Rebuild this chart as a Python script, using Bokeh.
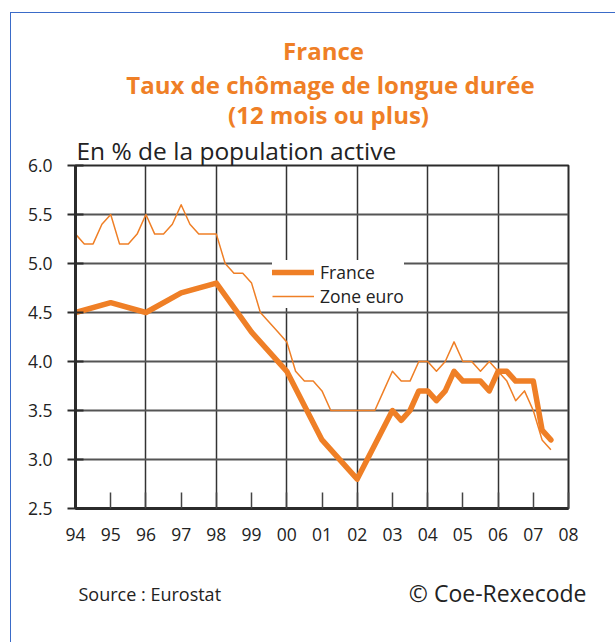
from bokeh.plotting import figure
from bokeh.models import (FixedTicker, Legend, LegendItem, Label, Range1d)
from bokeh.embed import file_html
from bokeh.resources import INLINE

ORANGE = "#EF7F26"
DARK = "#2b2b2b"
TEXT = "#222222"
FONT = "Open Sans"

# ---- data -------------------------------------------------------------
euro_x = [1994 + 0.25 * i for i in range(55)]
euro_y = [5.3, 5.2, 5.2, 5.4, 5.5, 5.2, 5.2, 5.3, 5.5, 5.3, 5.3, 5.4,
          5.6, 5.4, 5.3, 5.3, 5.3, 5.0, 4.9, 4.9, 4.8, 4.5, 4.4, 4.3,
          4.2, 3.9, 3.8, 3.8, 3.7, 3.5, 3.5, 3.5, 3.5, 3.5, 3.5, 3.7,
          3.9, 3.8, 3.8, 4.0, 4.0, 3.9, 4.0, 4.2, 4.0, 4.0, 3.9, 4.0,
          3.9, 3.8, 3.6, 3.7, 3.5, 3.2, 3.1]

france_x = [1994, 1995, 1996, 1997, 1998, 1999, 2000, 2001, 2002,
            2003.0, 2003.25, 2003.5, 2003.75, 2004.0, 2004.25, 2004.5, 2004.75,
            2005.0, 2005.25, 2005.5, 2005.75, 2006.0, 2006.25, 2006.5, 2006.75,
            2007.0, 2007.25, 2007.5]
france_y = [4.5, 4.6, 4.5, 4.7, 4.8, 4.3, 3.9, 3.2, 2.8,
            3.5, 3.4, 3.5, 3.7, 3.7, 3.6, 3.7, 3.9,
            3.8, 3.8, 3.8, 3.7, 3.9, 3.9, 3.8, 3.8,
            3.8, 3.3, 3.2]

x_ticks = list(range(1994, 2009))
x_tick_labels = ["94", "95", "96", "97", "98", "99", "00", "01", "02",
                 "03", "04", "05", "06", "07", "08"]
y_ticks = [2.5, 3.0, 3.5, 4.0, 4.5, 5.0, 5.5, 6.0]
y_tick_labels = ["2.5", "3.0", "3.5", "4.0", "4.5", "5.0", "5.5", "6.0"]
grid_years = [1994, 1996, 1998, 2000, 2002, 2004, 2006, 2008]

# canvas starts at page (11, 13) because of margin + 1px border
OX, OY = 11, 13

# ---- figure -----------------------------------------------------------
p = figure(width=616 - OX, height=643 - OY, output_backend="svg", toolbar_location=None,
           x_range=Range1d(1994, 2008), y_range=Range1d(2.5, 6.0),
           min_border_left=75 - OX, min_border_right=616 - 568,
           min_border_top=165 - OY, min_border_bottom=643 - 508)
p.styles = {"margin-left": "10px", "margin-top": "12px",
            "border-left": "1px solid #3A6BC8", "border-top": "1px solid #3A6BC8"}
p.background_fill_color = "white"
p.border_fill_color = "white"
p.outline_line_color = DARK
p.outline_line_width = 2

# axes
xa = p.xaxis[0]
xa.ticker = FixedTicker(ticks=x_ticks)
xa.major_label_overrides = {t: l for t, l in zip(x_ticks, x_tick_labels)}
xa.major_tick_in = 16
xa.major_tick_out = 0
xa.minor_tick_line_color = None
xa.major_tick_line_color = "#444444"
xa.major_tick_line_width = 1.5
xa.axis_line_color = DARK
xa.axis_line_width = 3
xa.major_label_standoff = 19
xa.major_label_text_font = FONT
xa.major_label_text_font_size = "17.5px"
xa.major_label_text_color = TEXT

ya = p.yaxis[0]
ya.ticker = FixedTicker(ticks=y_ticks)
ya.major_label_overrides = {t: l for t, l in zip(y_ticks, y_tick_labels)}
ya.major_tick_in = 8
ya.major_tick_out = 8
ya.minor_tick_line_color = None
ya.major_tick_line_color = DARK
ya.major_tick_line_width = 2
ya.axis_line_color = DARK
ya.axis_line_width = 3
ya.major_label_standoff = 15
ya.major_label_text_font = FONT
ya.major_label_text_font_size = "17.5px"
ya.major_label_text_color = TEXT

# grids
p.xgrid.ticker = FixedTicker(ticks=grid_years)
p.xgrid.grid_line_color = "#333333"
p.xgrid.grid_line_width = 1.5
p.ygrid.ticker = FixedTicker(ticks=y_ticks)
p.ygrid.grid_line_color = "#555555"
p.ygrid.grid_line_width = 2

# lines
r_ze = p.line(euro_x, euro_y, line_color=ORANGE, line_width=1.5, line_join="round")
r_fr = p.line(france_x, france_y, line_color=ORANGE, line_width=5.5,
              line_join="round", line_cap="round")

legend = Legend(items=[LegendItem(label="France", renderers=[r_fr]),
                       LegendItem(label="Zone euro", renderers=[r_ze])],
                location=(197, 200), orientation="vertical",
                padding=5, margin=0, spacing=-5,
                glyph_width=42, glyph_height=16, label_height=16,
                label_standoff=6,
                label_text_font=FONT, label_text_font_size="17.5px",
                label_text_color=TEXT,
                border_line_color=None,
                background_fill_color="white", background_fill_alpha=1.0)
p.add_layout(legend)

# texts (canvas pixel units)
def lab(x, y, text, size, align="center", bold=False, color=ORANGE):
    return Label(x=x - OX, y=y - OY, x_units="canvas", y_units="canvas",
                 text=text, text_align=align, text_baseline="middle",
                 text_font=FONT, text_font_size=size,
                 text_font_style="bold" if bold else "normal", text_color=color)

p.add_layout(lab(322, 49, "France", "24px", bold=True), "above")
p.add_layout(lab(329, 83, "Taux de chômage de longue durée", "24px", bold=True), "above")
p.add_layout(lab(327, 113, "(12 mois ou plus)", "24px", bold=True), "above")
p.add_layout(lab(75, 149, "En % de la population active", "24.5px", align="left", color=TEXT), "above")
p.add_layout(lab(77, 592, "Source : Eurostat", "18px", align="left", color=TEXT), "below")
p.add_layout(lab(585, 591, "© Coe-Rexecode", "23px", align="right", color=TEXT), "below")

open("out.html", "w").write(file_html(p, INLINE))
